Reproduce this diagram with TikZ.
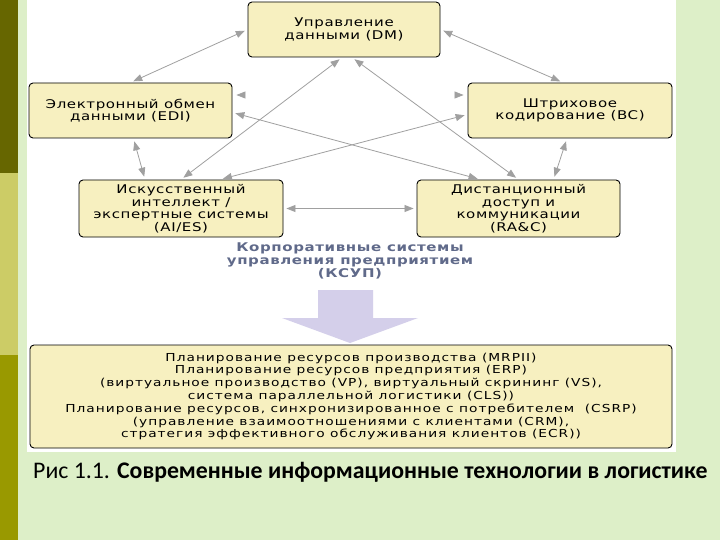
\documentclass[tikz,border=0pt]{standalone}
\usepackage{fontspec}
\newfontfamily\logboxfont[FakeStretch=1.25,LetterSpace=5]{DejaVu Sans}
\newfontfamily\logerpfont[FakeStretch=1.25,LetterSpace=9]{DejaVu Sans}
\newfontfamily\loglabelfont[FakeStretch=1.25,LetterSpace=5]{DejaVu Sans}
\newfontfamily\logcapfont{Carlito}
\usetikzlibrary{arrows.meta}
\definecolor{logGreen}{HTML}{DDEFC8}
\definecolor{logStripeA}{HTML}{666600}
\definecolor{logStripeB}{HTML}{CCCC66}
\definecolor{logStripeC}{HTML}{999900}
\definecolor{logYellow}{HTML}{F7F0C0}
\definecolor{logGray}{HTML}{A0A0A0}
\definecolor{logSlate}{HTML}{606A8A}
\definecolor{logLavender}{HTML}{D4CFEA}
\tikzset{
  log box/.style={draw=black, fill=logYellow, rounded corners=4pt, line width=0.9pt, inner sep=0pt,
    align=center, font=\logboxfont\fontsize{12}{12.5}\selectfont},
  log link/.style={draw=logGray, line width=0.8pt,
    {Triangle[length=9pt,width=7pt]}-{Triangle[length=9pt,width=7pt]}, shorten <=3pt, shorten >=3pt},
  log ghost/.style={draw=white, line width=0.8pt,
    {Triangle[length=9pt,width=7pt,color=logGray]}-{Triangle[length=9pt,width=7pt,color=logGray]},
    shorten <=4pt, shorten >=4pt},
  log label/.style={font=\loglabelfont\bfseries\fontsize{12}{13}\selectfont, text=logSlate, align=center},
}

\begin{document}
\begin{tikzpicture}[x=1pt,y=-1pt]
  \useasboundingbox (0,0) rectangle (720,540);
  % page background
  \fill[logGreen] (0,0) rectangle (720,540);
  \fill[logStripeA] (0,0) rectangle (18,173);
  \fill[logStripeB] (0,173) rectangle (18,355);
  \fill[logStripeC] (0,355) rectangle (18,540);
  \fill[white] (27,0) rectangle (676,452);

  % systems
  \node[log box, minimum width=192, minimum height=55] (dm) at (344,29.5) {Управление\\данными (DM)};
  \node[log box, minimum width=203, minimum height=55] (edi) at (130.5,110.5) {Электронный обмен\\данными (EDI)};
  \node[log box, minimum width=204, minimum height=55] (bc) at (570,110.5) {Штриховое\\кодирование (BC)};
  \node[log box, minimum width=204, minimum height=57] (ai) at (181,208.5) {Искусственный\\интеллект /\\экспертные системы\\(AI/ES)};
  \node[log box, minimum width=203, minimum height=57] (rac) at (518.5,208.5) {Дистанционный\\доступ и\\коммуникации\\(RA\&C)};

  % links
  \draw[log ghost] ([yshift=15.5pt]edi.east) -- ([yshift=15.5pt]bc.west);
  \draw[log link] (dm.west) -- (edi.north);
  \draw[log link] (dm.east) -- ([xshift=-7pt]bc.north);
  \draw[log link] ([xshift=-2pt]dm.south) -- (ai.north);
  \draw[log link] ([xshift=8pt]dm.south) -- (rac.north);
  \draw[log link] ([yshift=-2pt]edi.east) -- ([xshift=-38pt]rac.north);
  \draw[log link] ([yshift=-4pt]bc.west) -- ([xshift=39pt]ai.north);
  \draw[log link] ([xshift=3pt]edi.south) -- ([xshift=-36pt]ai.north);
  \draw[log link] ([xshift=-3pt]bc.south) -- ([xshift=35pt]rac.north);
  \draw[log link] (ai.east) -- (rac.west);

  \node[log label] (ksup) at (350,261) {Корпоративные системы\\управления предприятием\\(КСУП)};

  % big arrow
  \fill[logLavender] (318,290) -- (373,290) -- (373,318) -- (418,318) -- (350,343)
    -- (282,318) -- (318,318) -- cycle;

  \node[log box, minimum width=642, minimum height=103, font=\logerpfont\fontsize{11}{12.8}\selectfont]
    (erp) at (351,396.5) {Планирование ресурсов производства (MRPII)\\
    Планирование ресурсов предприятия (ERP)\\
    (виртуальное производство (VP), виртуальный скрининг (VS),\\
    система параллельной логистики (CLS))\\
    Планирование ресурсов, синхронизированное с потребителем~~(CSRP)\\
    (управление взаимоотношениями с клиентами (CRM),\\
    стратегия эффективного обслуживания клиентов (ECR))};

  \node[anchor=base west, inner sep=0pt, font=\logcapfont\fontsize{23.8}{26}\selectfont] (caption) at (33,478)
    {Рис 1.1. \textbf{Современные информационные технологии в логистике}};
\end{tikzpicture}
\end{document}
